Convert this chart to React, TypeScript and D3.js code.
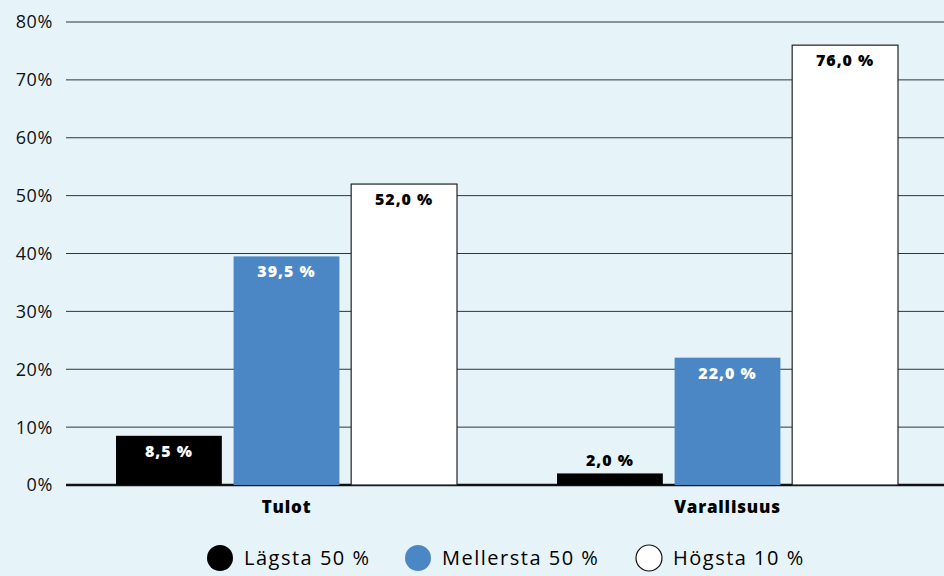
import React from "react";
import * as d3 from "d3";

const categories = ["Tulot", "Varallisuus"];
const seriesNames = ["Lägsta 50 %", "Mellersta 50 %", "Högsta 10 %"];
const seriesColors = ["#000000", "#4b87c5", "#ffffff"];
const labelColors = ["#ffffff", "#ffffff", "#000000"];
const lowest = [8.5, 2.0];
const middle = [39.5, 22.0];
const highest = [52.0, 76.0];
const yTicks = [0, 10, 20, 30, 40, 50, 60, 70, 80];

const W = 944;
const H = 576;
const FONT = "'Open Sans', sans-serif";

export default function App() {
  const series = [lowest, middle, highest];
  const y = d3.scaleLinear().domain([0, 80]).range([485, 22]);
  const x0 = d3.scaleBand<string>().domain(categories).range([66, 948]).paddingInner(0).paddingOuter(0);
  const x1 = d3
    .scaleBand<string>()
    .domain(seriesNames)
    .range([50, x0.bandwidth() - 50])
    .paddingInner(0.1)
    .paddingOuter(0);
  const fmt = (v: number) => v.toFixed(1).replace(".", ",") + " %";

  const legendX = [220, 418, 649];

  return (
    <svg width={W} height={H} style={{ position: "absolute", left: 0, top: 0, background: "#e6f4fa" }}>
      <rect x={0} y={0} width={W} height={H} fill="#e6f4fa" />
      {yTicks.map((t) => (
        <g key={t}>
          <line x1={66} x2={W} y1={y(t)} y2={y(t)} stroke={t === 0 ? "#111" : "#333"} strokeWidth={t === 0 ? 2.5 : 1} />
          <text x={53} y={y(t)} dy="0.36em" textAnchor="end" fontFamily={FONT} fontSize={18} letterSpacing={0.6} fill="#111">
            {t}%
          </text>
        </g>
      ))}
      {categories.map((c, ci) => (
        <g key={c} transform={`translate(${x0(c)},0)`}>
          {series.map((s, si) => {
            const v = s[ci];
            const bx = x1(seriesNames[si])!;
            const bw = x1.bandwidth();
            const top = y(v);
            const h = y(0) - top;
            const inside = h > 30;
            return (
              <g key={si}>
                <rect
                  x={bx}
                  y={top}
                  width={bw}
                  height={h}
                  fill={seriesColors[si]}
                  stroke={si === 2 ? "#222" : "none"}
                  strokeWidth={1.2}
                />
                <text
                  x={bx + bw / 2}
                  y={inside ? top + 21 : top - 7}
                  textAnchor="middle"
                  fontFamily={FONT}
                  fontWeight={800}
                  fontSize={16}
                  letterSpacing={1}
                  fill={inside ? labelColors[si] : "#000"}
                >
                  {fmt(v)}
                </text>
              </g>
            );
          })}
          <text
            x={x0.bandwidth() / 2}
            y={513}
            textAnchor="middle"
            fontFamily={FONT}
            fontWeight={800}
            fontSize={17}
            letterSpacing={0.8}
            fill="#000"
          >
            {c}
          </text>
        </g>
      ))}
      {seriesNames.map((n, i) => (
        <g key={n}>
          <circle cx={legendX[i]} cy={558} r={13} fill={seriesColors[i]} stroke={i === 2 ? "#111" : "none"} strokeWidth={1.2} />
          <text x={legendX[i] + 24} y={558} dy="0.36em" fontFamily={FONT} fontSize={20} letterSpacing={1.5} fill="#000">
            {n}
          </text>
        </g>
      ))}
    </svg>
  );
}
